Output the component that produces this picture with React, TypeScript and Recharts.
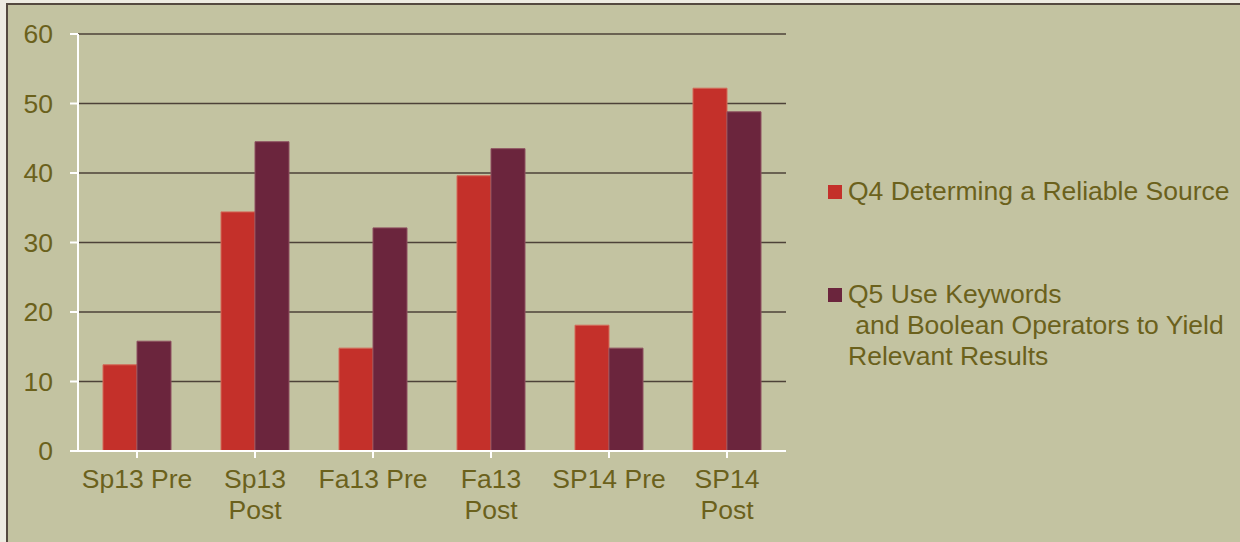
import React from "react";
import { BarChart, Bar, XAxis, YAxis, CartesianGrid, Legend } from "recharts";

const categories = ["Sp13 Pre", "Sp13\nPost", "Fa13 Pre", "Fa13\nPost", "SP14 Pre", "SP14\nPost"];
const q4Values = [12.4, 34.4, 14.8, 39.6, 18.1, 52.2];
const q5Values = [15.8, 44.5, 32.1, 43.5, 14.8, 48.8];
const yTicks = [0, 10, 20, 30, 40, 50, 60];
const seriesNames = ["Q4 Determing a Reliable Source", "Q5 Use Keywords\n and Boolean Operators to Yield\nRelevant Results"];

const data = categories.map((c, i) => ({ cat: c, q4: q4Values[i], q5: q5Values[i] }));

const TEXT = "#6b611c";
const RED = "#c4302a";
const PURPLE = "#6b253d";
const FONT = "'Liberation Sans', Arial, sans-serif";
const FS = 26.5;

const XTick = (props: any) => {
  const { x, y, payload } = props;
  const lines = String(payload.value).split("\n");
  return (
    <text x={x} y={y} textAnchor="middle" fill={TEXT} fontSize={FS} fontFamily={FONT}>
      {lines.map((l, i) => (
        <tspan key={i} x={x} dy={i === 0 ? 28 : 31}>{l}</tspan>
      ))}
    </text>
  );
};

const LegendContent = () => {
  const colors = [RED, PURPLE];
  return (
    <div style={{ fontFamily: FONT, fontSize: FS, color: TEXT }}>
      {seriesNames.map((n, i) => (
        <div key={i} style={{ position: "relative", paddingLeft: 20, marginBottom: i === 0 ? 72 : 0, lineHeight: "31px" }}>
          <span style={{ position: "absolute", left: 0, top: 9, width: 14, height: 14, background: colors[i] }} />
          {n.split("\n").map((l, j) => (
            <div key={j} style={{ whiteSpace: "pre" }}>{l}</div>
          ))}
        </div>
      ))}
    </div>
  );
};

export default function App() {
  return (
    <div style={{ position: "absolute", left: 0, top: 0, width: 1240, height: 542, background: "#edebe1", overflow: "hidden" }}>
      <div style={{ position: "absolute", left: 6, top: 3, width: 1240, height: 545, background: "#c3c3a1", borderLeft: "2px solid #54493f", borderTop: "2px solid #54493f" }} />
      <div style={{ position: "absolute", left: 0, top: 0 }}>
        <BarChart width={1240} height={542} data={data} margin={{ top: 34, right: 454, left: 0, bottom: 31 }} barGap={0}>
          <CartesianGrid horizontal vertical={false} stroke="#4d4238" strokeWidth={1.5} />
          <XAxis
            dataKey="cat"
            height={60}
            tickSize={7}
            tickMargin={2}
            axisLine={{ stroke: "#ffffff", strokeWidth: 2 }}
            tickLine={{ stroke: "#ffffff", strokeWidth: 2 }}
            tick={<XTick />}
            interval={0}
          />
          <YAxis
            width={78}
            domain={[0, 60]}
            ticks={yTicks}
            tickSize={8}
            tickMargin={17}
            axisLine={{ stroke: "#ffffff", strokeWidth: 2 }}
            tickLine={{ stroke: "#ffffff", strokeWidth: 2 }}
            tick={{ fill: TEXT, fontSize: FS, fontFamily: FONT }}
            interval={0}
          />
          <Legend
            layout="vertical"
            align="center"
            verticalAlign="middle"
            content={<LegendContent />}
            wrapperStyle={{ left: 828, top: 176, width: 412 }}
          />
          <Bar dataKey="q4" name={seriesNames[0]} fill={RED} stroke="#d46a58" strokeWidth={1} barSize={34} isAnimationActive={false} />
          <Bar dataKey="q5" name={seriesNames[1]} fill={PURPLE} stroke="#8e5060" strokeWidth={1} barSize={34} isAnimationActive={false} />
        </BarChart>
      </div>
    </div>
  );
}
